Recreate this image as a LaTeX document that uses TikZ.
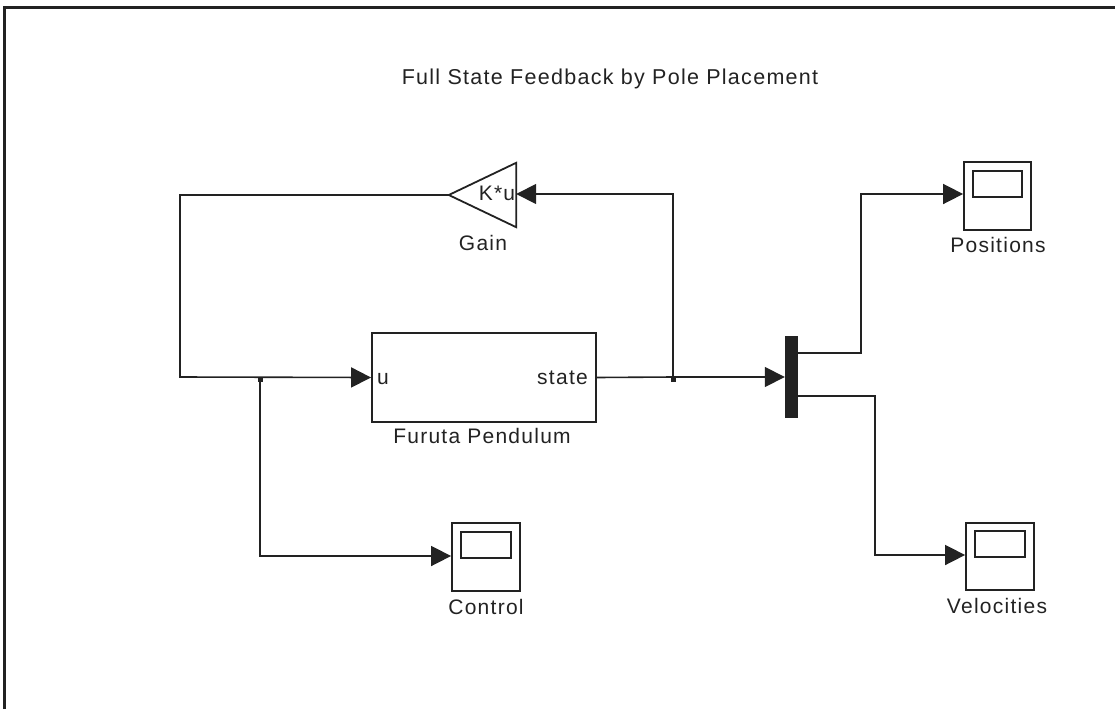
\documentclass[tikz,border=0pt]{standalone}
\usepackage{fontspec}
\setmainfont[LetterSpace=6]{Liberation Sans}
\usetikzlibrary{arrows.meta}
\definecolor{ink}{HTML}{222222}
\tikzset{
  wire/.style={draw=ink, line width=1.6pt},
  sig/.style={wire, -{Triangle[length=20pt,width=20pt]}},
  lbl/.style={text=ink, font=\fontsize{21}{25}\selectfont, inner sep=0pt, anchor=base},
  blockbox/.style={draw=ink, line width=1.8pt, inner sep=0pt},
  dotsq/.style={fill=ink, minimum size=5pt, inner sep=0pt},
}
\begin{document}
\begin{tikzpicture}[x=1pt,y=-1pt]
\useasboundingbox (0,0) rectangle (1115,709);
% frame
\draw[ink, line width=3pt] (4,709) -- (4,8) -- (1115,8);
% title
\node[lbl, font=\fontsize{21.5}{26}\selectfont] (title) at (610,84) {Full State Feedback by Pole Placement};
% gain
\node[inner sep=0pt, minimum width=67pt, minimum height=64pt] (gain) at (482.5,195) {};
\draw[ink, line width=1.8pt, line join=miter] (gain.west) -- (gain.north east) -- (gain.south east) -- cycle;
\node[lbl] (gaintext) at (497,200) {K*u};
\node[lbl] (gainlbl) at (483,250) {Gain};
% plant
\node[blockbox, minimum width=224pt, minimum height=89pt] (plant) at (484,377.5) {};
\node[lbl, anchor=base west] (uport) at (377,384) {u};
\node[lbl, anchor=base east] (stport) at (588,384) {state};
\node[lbl] (plantlbl) at (482,443) {Furuta Pendulum};
% demux
\node[fill=ink, minimum width=13pt, minimum height=82pt, inner sep=0pt] (demux) at (791.5,377) {};
% scopes
\node[blockbox, minimum width=68pt, minimum height=68pt] (ctrl) at (486,557) {};
\draw[ink, line width=1.6pt] (461,532) rectangle (511,558);
\node[lbl] (ctrllbl) at (486,614) {Control};
\node[blockbox, minimum width=67pt, minimum height=68pt] (pos) at (997.5,196) {};
\draw[ink, line width=1.6pt] (973,171) rectangle (1022,197);
\node[lbl] (poslbl) at (998,252) {Positions};
\node[blockbox, minimum width=68pt, minimum height=67pt] (vel) at (1000,556.5) {};
\draw[ink, line width=1.6pt] (975,531) rectangle (1025,557);
\node[lbl] (vellbl) at (997,613) {Velocities};
% branch points
\coordinate (b1) at (260,377);
\coordinate (b2) at (673,377);
\node[dotsq] (d1) at (260,379) {};
\node[dotsq] (d2) at (673,379) {};
% connectors
\draw[sig] (gain.west) -- (180,195) -- (180,377) -- (plant.west);
\draw[wire] (plant.east) -- (b2);
\draw[sig] (b2) -- (demux.west |- b2);
\draw[sig] (b2) -- (673,194) -- (gain.east |- 0,194);
\draw[sig] (b1) -- (260,556) -- (ctrl.west |- 0,556);
\draw[sig] ([yshift=24pt]demux.east) -- (861,353) -- (861,194) -- (pos.west |- 0,194);
\draw[sig] ([yshift=-19pt]demux.east) -- (875,396) -- (875,555) -- (vel.west |- 0,555);
\end{tikzpicture}
\end{document}
